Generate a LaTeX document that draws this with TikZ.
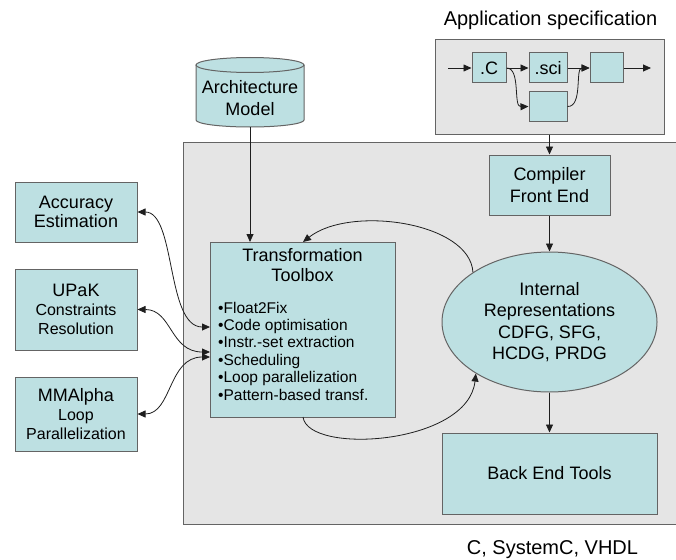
\documentclass[tikz,border=0pt]{standalone}
\usepackage{fontspec}
\setmainfont{Liberation Sans}
\usetikzlibrary{arrows.meta,calc,shapes.geometric}
\definecolor{tealfill}{RGB}{189,224,226}
\definecolor{grayfill}{RGB}{229,229,229}
\definecolor{edgegray}{RGB}{100,100,100}
\definecolor{linecol}{RGB}{30,30,30}
\begin{document}
\begin{tikzpicture}[x=1pt,y=1pt,
  box/.style={draw=edgegray,fill=tealfill,line width=1pt,inner sep=0pt,align=center,font=\fontsize{18}{21.3}\selectfont},
  panel/.style={draw=edgegray,fill=grayfill,line width=1pt,inner sep=0pt},
  conn/.style={draw=linecol,line width=0.8pt,-{Triangle[length=8pt,width=7pt]}},
  biconn/.style={draw=linecol,line width=0.8pt,{Triangle[length=8pt,width=7pt]}-{Triangle[length=8pt,width=7pt]}},
  lbl/.style={inner sep=0pt,align=center,font=\fontsize{18}{21.3}\selectfont},
]
\useasboundingbox (0,0) rectangle (676,-559);
\clip (0,0) rectangle (676,-559);

% main gray panel
\node[panel,minimum width=497,minimum height=382,anchor=north west] (core) at (183,-142) {};

% application specification
\node[inner sep=0pt,anchor=base,font=\fontsize{20}{24}\selectfont] (apptitle) at (550.5,-26) {Application specification};
\node[panel,minimum width=229,minimum height=94] (app) at (549.5,-87) {};
\node[box,minimum width=34,minimum height=30] (cbox) at (489,-68) {.C};
\node[box,minimum width=38,minimum height=30] (sci) at (548,-68) {.sci};
\node[box,minimum width=33,minimum height=30] (third) at (606.5,-68) {};
\node[box,minimum width=38,minimum height=29] (low) at (548,-106.5) {};
\coordinate (appin) at (448,-68);
\coordinate (appout) at (651,-68);
\draw[conn] (appin) -- (cbox.west);
\draw[conn] (cbox.east) -- (sci.west);
\draw[conn] (sci.east) -- (third.west);
\draw[conn] (third.east) -- (appout);
\draw[conn] (cbox.east) .. controls (521,-68) and (513,-107) .. (low.west);
\draw[conn] (low.east) .. controls (583,-107) and (575,-68) .. (third.west);

% architecture model cylinder
\draw[draw=edgegray,fill=tealfill,line width=1pt]
  (196,-65) -- (196,-120) arc[start angle=180,end angle=360,x radius=54pt,y radius=7pt] -- (304,-65);
\draw[draw=edgegray,fill=tealfill,line width=1pt] (250,-65) ellipse[x radius=54pt,y radius=7.5pt];
\node[lbl,anchor=base,font=\fontsize{18}{21.7}\selectfont] (arch) at (250,-115) {Architecture\\Model};
\coordinate (archbot) at (250,-127);

% left tools
\node[box,minimum width=122,minimum height=60,font=\fontsize{18}{19.5}\selectfont] (acc) at (76,-212) {Accuracy\\Estimation};
\node[box,minimum width=122,minimum height=81,font=\fontsize{16}{18.7}\selectfont] (upak) at (76,-309.5) {{\fontsize{18}{18.7}\selectfont UPaK}\\Constraints\\Resolution};
\node[box,minimum width=122,minimum height=74,font=\fontsize{16}{19.2}\selectfont] (mma) at (76,-414) {{\fontsize{18}{19.2}\selectfont MMAlpha}\\Loop\\Parallelization};

% transformation toolbox
\node[box,minimum width=185,minimum height=175,anchor=north west] (tt) at (210,-242) {};
\node[lbl,anchor=base,font=\fontsize{18}{20.7}\selectfont] (tttitle) at (302.5,-281.7) {Transformation\\Toolbox};
\node[inner sep=0pt,anchor=base west,align=left,font=\fontsize{15.5}{17.4}\selectfont] (ttlist) at (218,-400)
  {•Float2Fix\\•Code optimisation\\•Instr.-set extraction\\•Scheduling\\•Loop parallelization\\•Pattern-based transf.};

% right column
\node[box,minimum width=121,minimum height=60] (comp) at (549.5,-185) {Compiler\\Front End};
\node[box,ellipse,minimum width=215,minimum height=140] (ir) at (549.5,-322) {Internal\\Representations\\CDFG, SFG,\\HCDG, PRDG};
\node[box,minimum width=215,minimum height=81] (bet) at (549.5,-473.5) {Back End Tools};
\node[inner sep=0pt,anchor=base,font=\fontsize{20}{24}\selectfont] (out) at (552.5,-554) {C, SystemC, VHDL};

% connectors
\draw[conn] (app.south) -- (comp.north);
\draw[conn] (comp.south) -- (ir.north);
\draw[conn] (ir.south) -- (bet.north);
\draw[conn] (archbot) -- (tt.north -| archbot);

\coordinate (ttin1) at (210,-327);
\coordinate (ttin2) at (210,-352);
\coordinate (ttin3) at (210,-357);
\draw[biconn] (acc.east) .. controls (176,-212) and (166,-327) .. (ttin1);
\draw[biconn] (upak.east) .. controls (172,-309.5) and (170,-352) .. (ttin2);
\draw[biconn] (mma.east) .. controls (172,-414) and (168,-357) .. (ttin3);

\coordinate (ttfb) at (303,-242);
\coordinate (ttbot) at (303,-417);
\draw[conn] (ir.147) .. controls (470,-222) and (350,-205) .. (ttfb);
\draw[conn] (ttbot) .. controls (308,-455) and (468,-445) .. (ir.215);
\end{tikzpicture}
\end{document}
